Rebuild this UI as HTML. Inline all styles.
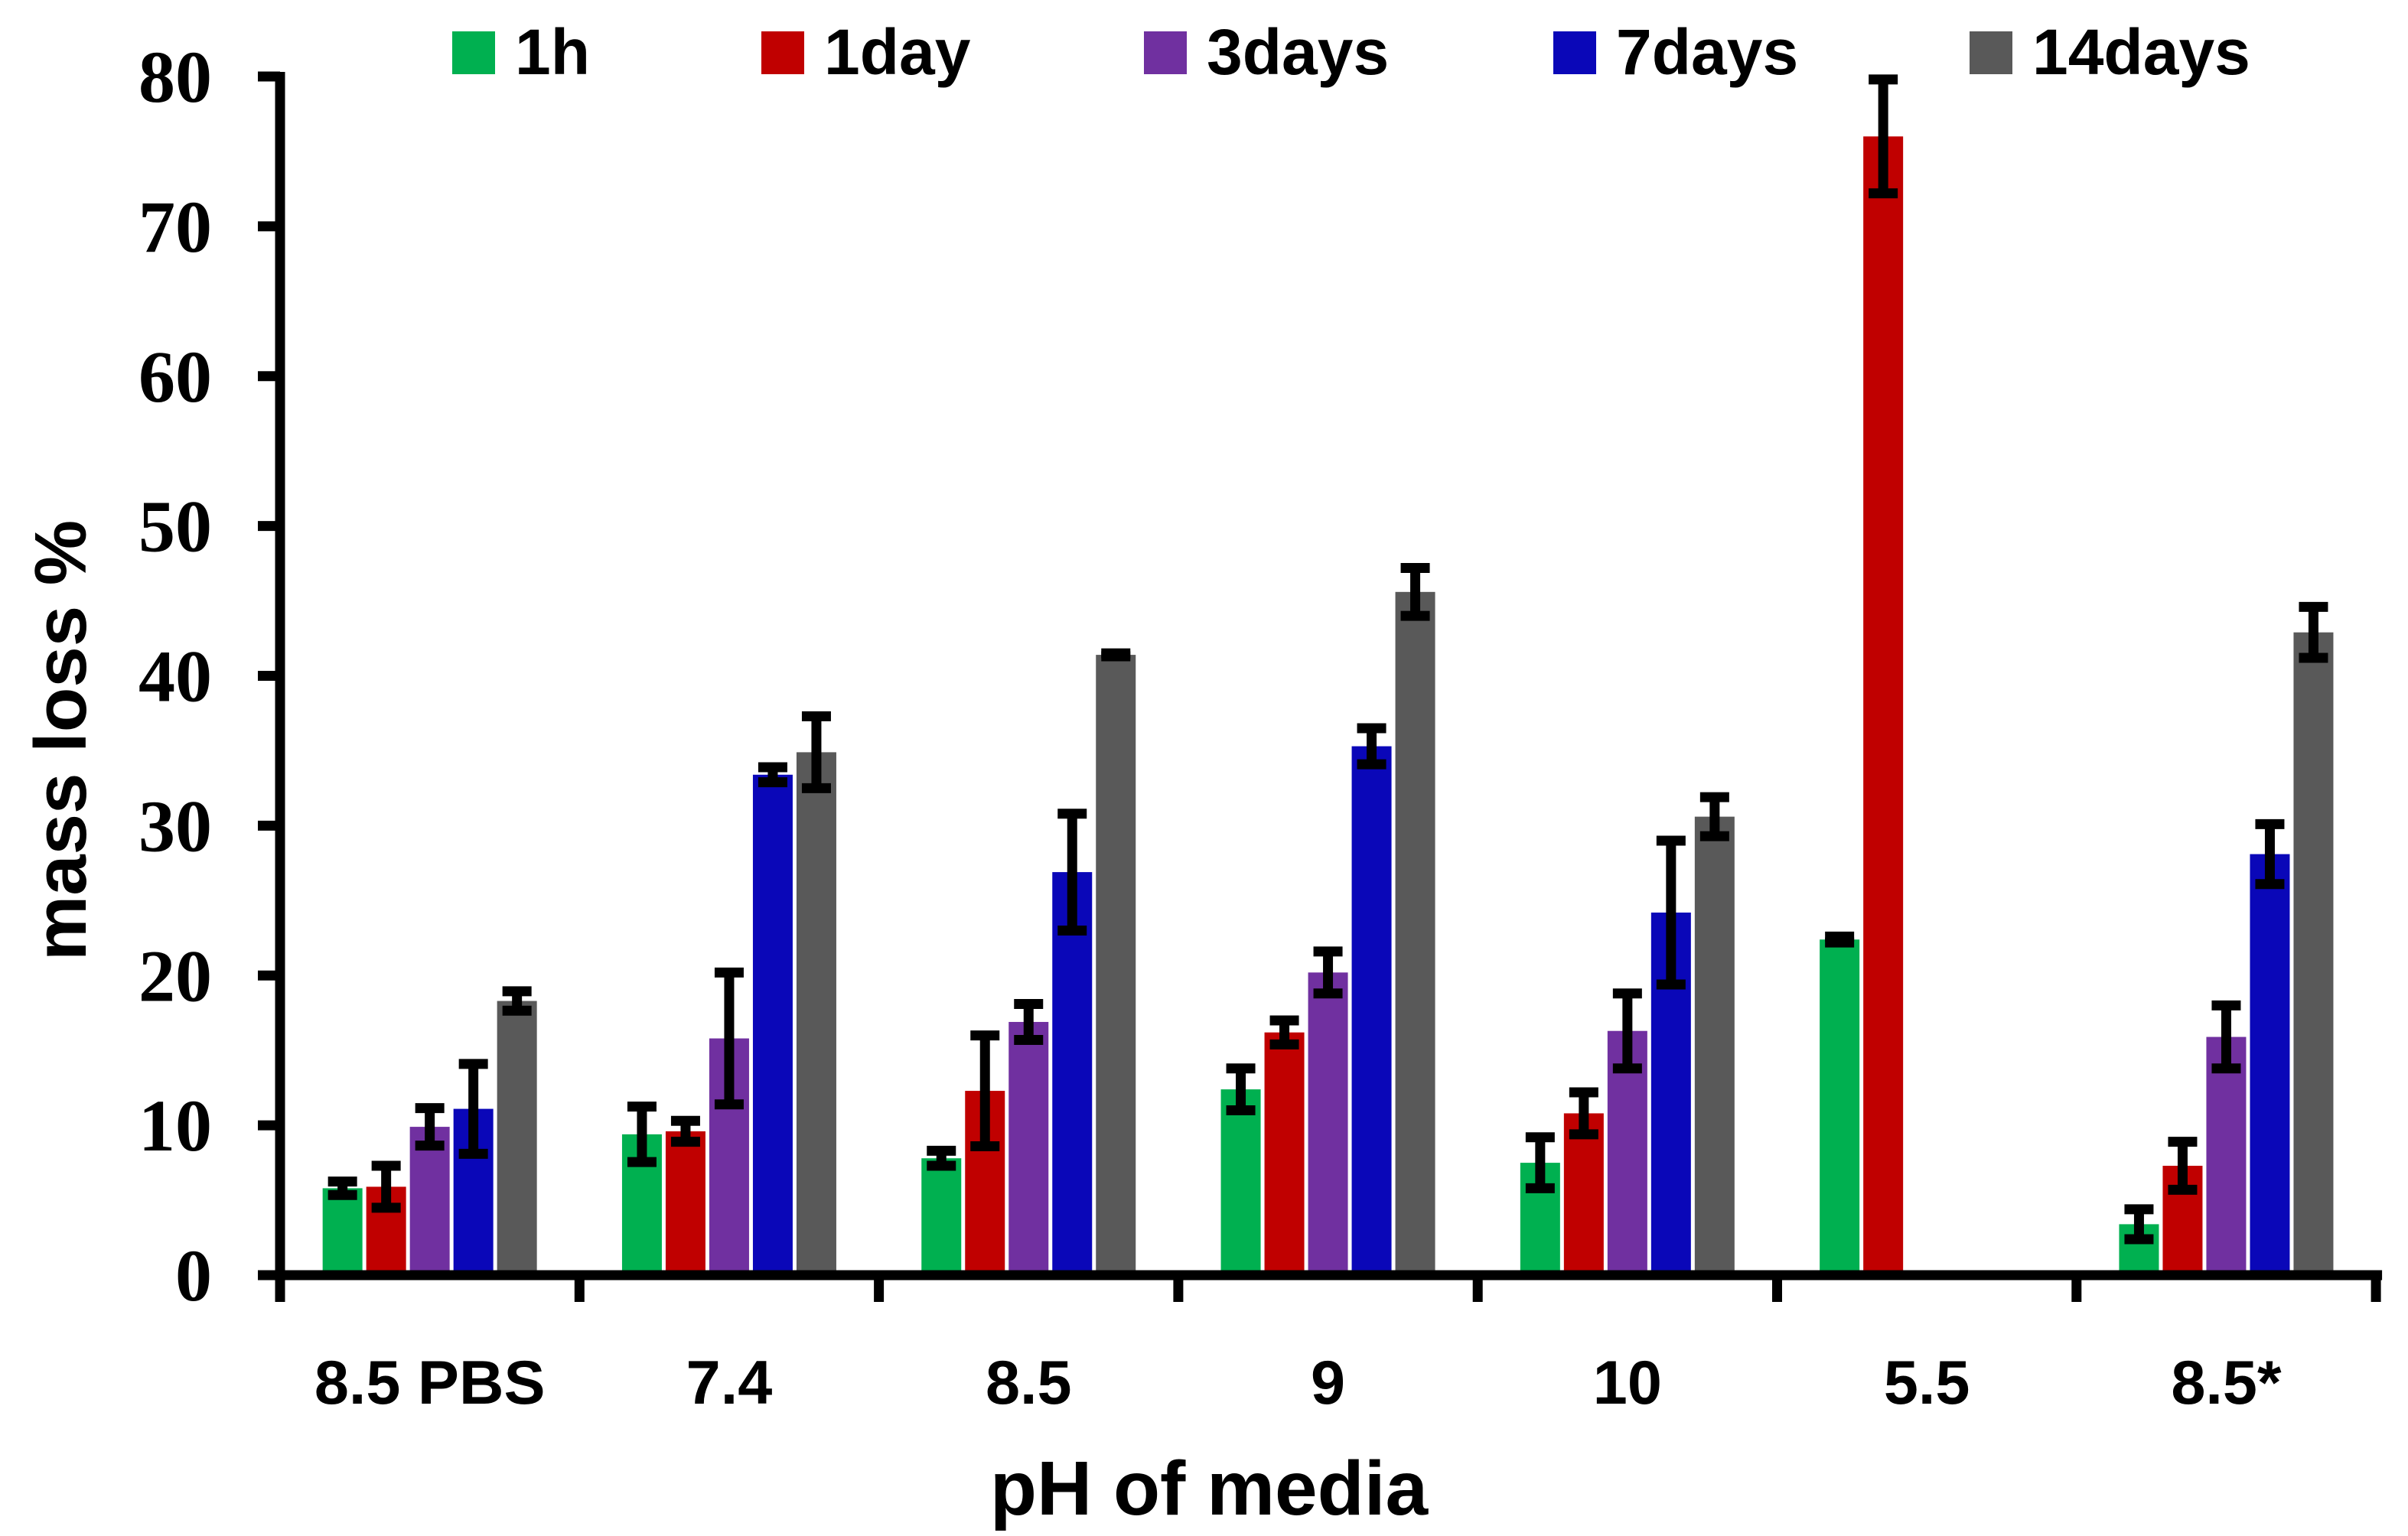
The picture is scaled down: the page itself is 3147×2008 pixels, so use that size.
<!DOCTYPE html>
<html><head><meta charset="utf-8"><style>
html,body{margin:0;padding:0;background:#fff;}
svg{display:block;}
</style></head><body>
<svg id="chart" width="3147" height="2008" viewBox="0 0 3147 2008" xmlns="http://www.w3.org/2000/svg">
<g id="bars"></g>
<g id="errs"></g>
<g id="axes"></g>
<g id="legend"></g>
<text x="1580" y="1980" text-anchor="middle" font-family="Liberation Sans, sans-serif" font-weight="bold" font-size="100">pH of media</text>
<text transform="translate(112,968) rotate(-90)" text-anchor="middle" font-family="Liberation Sans, sans-serif" font-weight="bold" font-size="96">mass loss %</text>
</svg>
<script>
const categories = ["8.5 PBS","7.4","8.5","9","10","5.5","8.5*"];
const seriesNames = ["1h","1day","3days","7days","14days"];
const seriesColors = ["#00b050","#c00000","#7030a0","#0a07b8","#595959"];
const v1h    = [5.8, 9.4, 7.8, 12.4, 7.5, 22.4, 3.4];
const v1day  = [5.9, 9.6, 12.3, 16.2, 10.8, 76.0, 7.3];
const v3days = [9.9, 15.8, 16.9, 20.2, 16.3, null, 15.9];
const v7days = [11.1, 33.4, 26.9, 35.3, 24.2, null, 28.1];
const v14days= [18.3, 34.9, 41.4, 45.6, 30.6, null, 42.9];
const e1h    = [0.45, 1.85, 0.5, 1.4, 1.7, 0.2, 1.0];
const e1day  = [1.4, 0.7, 3.7, 0.8, 1.4, 3.8, 1.6];
const e3days = [1.25, 4.4, 1.2, 1.4, 2.5, null, 2.1];
const e7days = [3.0, 0.5, 3.9, 1.2, 4.8, null, 2.0];
const e14days= [0.65, 2.4, 0.1, 1.6, 1.3, null, 1.7];
const yTicks = [0,10,20,30,40,50,60,70,80];

const values=[v1h,v1day,v3days,v7days,v14days];
const errors=[e1h,e1day,e3days,e7days,e14days];
const NS="http://www.w3.org/2000/svg";
const X0=366, GW=391.3, Y0=1667, YT=100, YMAX=80;
function y(v){return Y0-(v/YMAX)*(Y0-YT);}
function gx(i){return X0+GW*i+GW/2;}
function mk(tag,attrs,parent){const e=document.createElementNS(NS,tag);for(const k in attrs)e.setAttribute(k,attrs[k]);parent.appendChild(e);return e;}
const bars=document.getElementById('bars'),errs=document.getElementById('errs'),axes=document.getElementById('axes'),legend=document.getElementById('legend');
const BW=52, STEP=57;
for(let s=0;s<5;s++){for(let c=0;c<categories.length;c++){
  const v=values[s][c]; if(v==null) continue;
  const cx=gx(c)+(s-2)*STEP;
  const r=mk('rect',{x:cx-BW/2,y:y(v),width:BW,height:Y0-y(v),fill:seriesColors[s]},bars);
  
  
  const e=errors[s][c]; if(e==null) continue;
  const g=mk('g',{},errs);
  
  
  const yt=y(v+e), yb=y(v-e);
  mk('line',{x1:cx,x2:cx,y1:yt,y2:yb,stroke:'#000','stroke-width':13},g);
  mk('line',{x1:cx-19,x2:cx+19,y1:yt,y2:yt,stroke:'#000','stroke-width':13},g);
  mk('line',{x1:cx-19,x2:cx+19,y1:yb,y2:yb,stroke:'#000','stroke-width':13},g);
}}
const ya=mk('line',{x1:X0,x2:X0,y1:YT-6,y2:Y0+6,stroke:'#000','stroke-width':13},axes);


const xa=mk('line',{x1:X0-6,x2:X0+GW*categories.length+8,y1:Y0,y2:Y0,stroke:'#000','stroke-width':13},axes);


yTicks.forEach(t=>{
  mk('line',{x1:X0-29,x2:X0,y1:y(t),y2:y(t),stroke:'#000','stroke-width':13},axes);
  const tx=mk('text',{x:277,y:y(t)+33,'text-anchor':'end','font-family':'Liberation Serif, serif','font-weight':'bold','font-size':96},axes);
  tx.textContent=t;
  
  
});
for(let i=0;i<=categories.length;i++){
  mk('line',{x1:X0+GW*i,x2:X0+GW*i,y1:Y0,y2:1702,stroke:'#000','stroke-width':13},axes);
}
categories.forEach((c,i)=>{
  const tx=mk('text',{x:gx(i),y:1835,'text-anchor':'middle','font-family':'Liberation Sans, sans-serif','font-weight':'bold','font-size':81},axes);
  tx.textContent=c;
  
  
});
const legX=[591,995,1495,2030,2574];
seriesNames.forEach((n,s)=>{
  const g=mk('g',{},legend);
  
  
  mk('rect',{x:legX[s],y:41,width:56,height:56,fill:seriesColors[s]},g);
  const t=mk('text',{x:legX[s]+82,y:97,'font-family':'Liberation Sans, sans-serif','font-weight':'bold','font-size':84},g);
  t.textContent=n;
});
</script>
</body></html>
